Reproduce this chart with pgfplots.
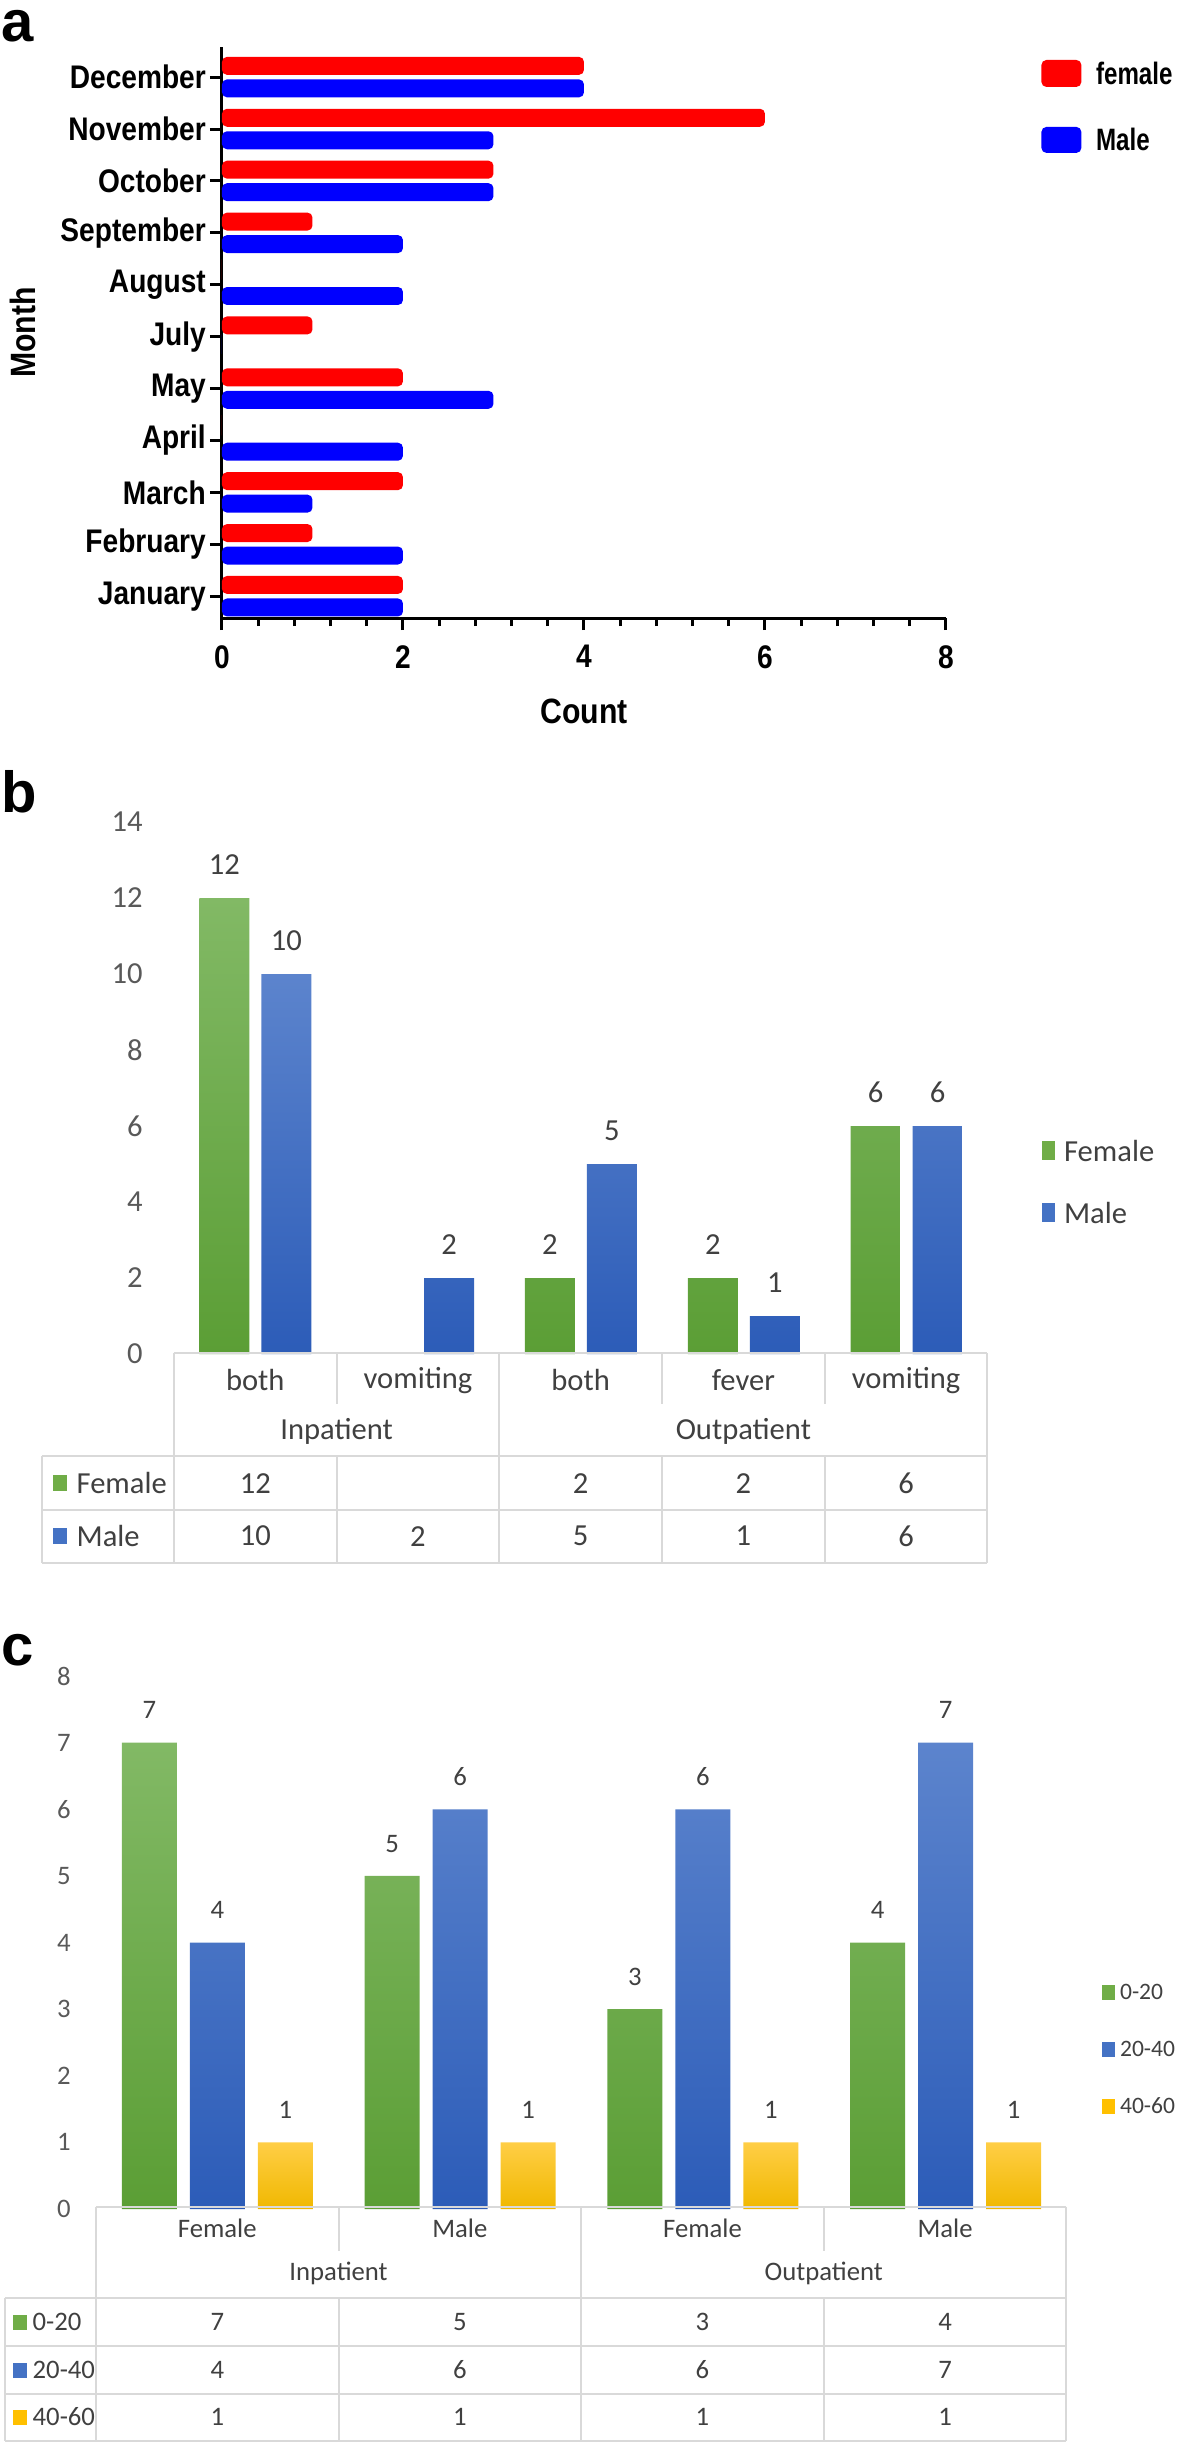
\documentclass[border=0pt]{standalone}
\usepackage{fontspec}
\setmainfont{Carlito}
\newfontfamily\prism{Liberation Sans}[FakeStretch=0.86]
\newfontfamily\prismleg{Liberation Sans}[FakeStretch=0.78]
\newfontfamily\panelfont{Liberation Sans}
\usepackage{pgfplots}
\pgfplotsset{compat=1.18}

\definecolor{prismred}{RGB}{255,0,0}
\definecolor{prismblue}{RGB}{0,0,255}
\definecolor{gtop}{RGB}{130,185,101}
\definecolor{gbot}{RGB}{91,158,53}
\definecolor{btop}{RGB}{92,132,205}
\definecolor{bbot}{RGB}{44,92,184}
\definecolor{ytop}{RGB}{255,206,70}
\definecolor{ybot}{RGB}{240,184,0}
\definecolor{xgreen}{RGB}{112,173,71}
\definecolor{xblue}{RGB}{68,114,196}
\definecolor{xyellow}{RGB}{255,192,0}
\definecolor{txt}{RGB}{64,64,64}
\definecolor{ticktxt}{RGB}{89,89,89}
\definecolor{rule}{RGB}{217,217,217}

\newcommand{\fa}{\prism\bfseries\fontsize{9.3}{11}\selectfont}
\newcommand{\faleg}{\prismleg\bfseries\fontsize{8.8}{10}\selectfont}
\newcommand{\faL}{\prism\bfseries\fontsize{10}{12}\selectfont}
\newcommand{\fb}{\fontsize{8.7}{10}\selectfont}
\newcommand{\fc}{\fontsize{7.6}{9}\selectfont}
\newcommand{\fcleg}{\fontsize{6.7}{8}\selectfont}
\newcommand{\fp}{\panelfont\bfseries\fontsize{16.5}{20}\selectfont}

\begin{document}
\begin{tikzpicture}
\path[use as bounding box] (0,0) rectangle (11.81,-24.48);

% ---------- a: cases per month by sex
\begin{axis}[
  at={(2.22cm,-6.18cm)}, anchor=south west,
  scale only axis, width=7.24cm, height=5.71cm,
  xmin=0, xmax=8, ymin=-0.42, ymax=10.58,
  axis lines*=left,
  axis line style={line width=0.03cm, black},
  tick style={line width=0.03cm, black},
  tick align=outside,
  major tick length=0.12cm, minor tick length=0.08cm,
  xtick={0,2,4,6,8}, minor x tick num=4,
  ytick={0,...,10},
  yticklabels={January,February,March,April,May,July,August,September,October,November,December},
  /pgf/number format/assume math mode=true,
  ticklabel style={font=\fa, inner sep=1pt},
  xticklabel style={yshift=-0.11cm},
  xlabel={Count}, ylabel={Month},
  xlabel style={font=\faL, at={(axis description cs:0.5,-0.163)}, anchor=center},
  ylabel style={font=\faL, at={(axis description cs:-0.275,0.5)}, anchor=center},
]
\addplot[xbar, bar width=0.18cm, bar shift=0.1125cm, fill=prismred, draw=none, rounded corners=0.05cm]
  coordinates {(2,0) (1,1) (2,2) (0,3) (2,4) (1,5) (0,6) (1,7) (3,8) (6,9) (4,10)};
\addplot[xbar, bar width=0.18cm, bar shift=-0.1125cm, fill=prismblue, draw=none, rounded corners=0.05cm]
  coordinates {(2,0) (2,1) (1,2) (2,3) (3,4) (0,5) (2,6) (2,7) (3,8) (3,9) (4,10)};
\end{axis}

% ---------- b: symptoms by patient type and sex
\begin{axis}[
  at={(1.74cm,-13.54cm)}, anchor=south west,
  scale only axis, width=8.14cm, height=5.32cm,
  ybar=0.12cm, bar width=0.5cm,
  xmin=-0.5, xmax=4.5, ymin=0, ymax=14,
  axis x line*=bottom, axis y line*=left,
  axis line style={draw=none},
  major tick length=0pt, xtick=\empty,
  ytick={0,2,...,14},
  /pgf/number format/assume math mode=true,
  yticklabel style={font=\fb, text=ticktxt, xshift=-0.19cm},
  clip=false,
  nodes near coords,
  every node near coord/.append style={font=\fb, text=txt, anchor=south, inner sep=0pt, yshift=0.23cm},
]
\addplot[draw=none, top color=gtop, bottom color=gbot]
  coordinates {(0,12) (2,2) (3,2) (4,6)};
\addplot[draw=none, top color=btop, bottom color=bbot]
  coordinates {(0,10) (1,2) (2,5) (3,1) (4,6)};
\end{axis}

% ---------- c: age groups by patient type and sex
\begin{axis}[
  at={(0.96cm,-22.09cm)}, anchor=south west,
  scale only axis, width=9.71cm, height=5.33cm,
  ybar=0.13cm, bar width=0.55cm,
  xmin=-0.5, xmax=3.5, ymin=0, ymax=8,
  axis x line*=bottom, axis y line*=left,
  axis line style={draw=none},
  major tick length=0pt, xtick=\empty,
  ytick={0,...,8},
  /pgf/number format/assume math mode=true,
  yticklabel style={font=\fc, text=ticktxt, xshift=-0.13cm},
  clip=false,
  nodes near coords,
  every node near coord/.append style={font=\fc, text=txt, anchor=south, inner sep=0pt, yshift=0.23cm},
]
\addplot[draw=none, top color=gtop, bottom color=gbot]
  coordinates {(0,7) (1,5) (2,3) (3,4)};
\addplot[draw=none, top color=btop, bottom color=bbot]
  coordinates {(0,4) (1,6) (2,6) (3,7)};
\addplot[draw=none, top color=ytop, bottom color=ybot]
  coordinates {(0,1) (1,1) (2,1) (3,1)};
\end{axis}

\begin{scope}[x=0.01cm, y=-0.01cm]
% panel letters
\node[font=\fp, anchor=base west, inner sep=0pt] at (1,42) {a};
\node[font=\fp, anchor=base west, inner sep=0pt] at (1,813) {b};
\node[font=\fp, anchor=base west, inner sep=0pt] at (1,1666) {c};

% legend a
\fill[prismred, rounded corners=0.05cm] (1042,60) rectangle (1082,87);
\fill[prismblue, rounded corners=0.05cm] (1042,127) rectangle (1082,153);
\node[font=\faleg, anchor=west, inner sep=0pt] at (1096,73) {female};
\node[font=\faleg, anchor=west, inner sep=0pt] at (1096,140) {Male};

% legend b
\fill[xgreen] (1043,1142) rectangle (1056,1161);
\fill[xblue] (1043,1204) rectangle (1056,1223);
\node[font=\fb, text=txt, anchor=west, inner sep=0pt] at (1064,1152) {Female};
\node[font=\fb, text=txt, anchor=west, inner sep=0pt] at (1064,1214) {Male};

% table b
\begin{scope}[rule, line width=0.02cm]
\draw (174,1354) -- (988,1354) (42,1457) -- (988,1457) (42,1511) -- (988,1511) (42,1564) -- (988,1564);
\draw (42,1457) -- (42,1564) (174,1354) -- (174,1564) (499.6,1354) -- (499.6,1564) (988,1354) -- (988,1564);
\foreach \x in {336.8,662.4,825.2} \draw (\x,1354) -- (\x,1405) (\x,1457) -- (\x,1564);
\end{scope}
\begin{scope}[every node/.style={font=\fb, text=txt, inner sep=0pt}]
\node at (255.4,1381) {both};
\node at (418.2,1381) {vomiting};
\node at (581.0,1381) {both};
\node at (743.8,1381) {fever};
\node at (906.6,1381) {vomiting};
\node at (336.8,1432) {Inpatient};
\node at (743.8,1432) {Outpatient};
\fill[xgreen] (53,1476) rectangle (67,1492);
\fill[xblue] (53,1529) rectangle (67,1545);
\node[anchor=west] at (76,1484) {Female};
\node[anchor=west] at (76,1537) {Male};
\node at (255.4,1484) {12};
\node at (581.0,1484) {2};
\node at (743.8,1484) {2};
\node at (906.6,1484) {6};
\node at (255.4,1537) {10};
\node at (418.2,1537) {2};
\node at (581.0,1537) {5};
\node at (743.8,1537) {1};
\node at (906.6,1537) {6};
\end{scope}

% legend c
\fill[xgreen] (1103,1986) rectangle (1116,2001);
\fill[xblue] (1103,2043) rectangle (1116,2058);
\fill[xyellow] (1103,2100) rectangle (1116,2115);
\node[font=\fcleg, text=txt, anchor=west, inner sep=0pt] at (1120,1993) {0-20};
\node[font=\fcleg, text=txt, anchor=west, inner sep=0pt] at (1120,2050) {20-40};
\node[font=\fcleg, text=txt, anchor=west, inner sep=0pt] at (1120,2107) {40-60};

% table c
\begin{scope}[rule, line width=0.02cm]
\draw (96,2208) -- (1067,2208) (5,2299) -- (1067,2299) (5,2347) -- (1067,2347) (5,2395) -- (1067,2395) (5,2442) -- (1067,2442);
\draw (5,2299) -- (5,2442) (96,2208) -- (96,2442) (581.5,2208) -- (581.5,2442) (1067,2208) -- (1067,2442);
\foreach \x in {338.75,824.25} \draw (\x,2208) -- (\x,2252) (\x,2299) -- (\x,2442);
\end{scope}
\begin{scope}[every node/.style={font=\fc, text=txt, inner sep=0pt}]
\node at (217.4,2230) {Female};
\node at (460.1,2230) {Male};
\node at (702.9,2230) {Female};
\node at (945.6,2230) {Male};
\node at (338.75,2275) {Inpatient};
\node at (824.25,2275) {Outpatient};
\fill[xgreen] (13,2316) rectangle (27,2331);
\fill[xblue] (13,2364) rectangle (27,2379);
\fill[xyellow] (13,2411) rectangle (27,2426);
\node[anchor=west] at (32,2323) {0-20};
\node[anchor=west] at (32,2371) {20-40};
\node[anchor=west] at (32,2418) {40-60};
\node at (217.4,2323) {7};
\node at (460.1,2323) {5};
\node at (702.9,2323) {3};
\node at (945.6,2323) {4};
\node at (217.4,2371) {4};
\node at (460.1,2371) {6};
\node at (702.9,2371) {6};
\node at (945.6,2371) {7};
\node at (217.4,2418) {1};
\node at (460.1,2418) {1};
\node at (702.9,2418) {1};
\node at (945.6,2418) {1};
\end{scope}
\end{scope}
\end{tikzpicture}
\end{document}
